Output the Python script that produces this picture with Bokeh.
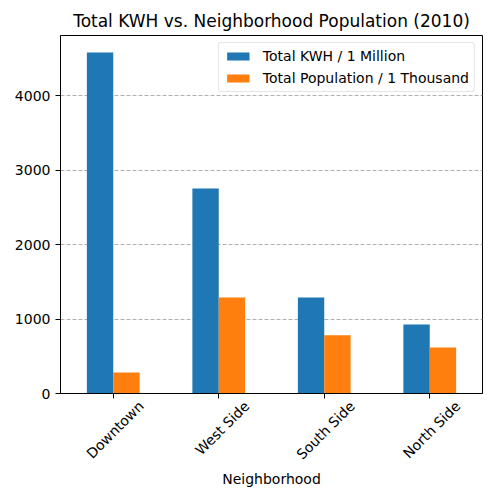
import math
from bokeh.plotting import figure
from bokeh.models import (ColumnDataSource, FixedTicker, Range1d, Legend, LegendItem,
                          LinearAxis)
from bokeh.embed import file_html
from bokeh.resources import INLINE

neighborhoods = ["Downtown", "West Side", "South Side", "North Side"]
kwh_millions = [4577, 2752, 1290, 926]
population_thousands = [282, 1289, 783, 617]
y_ticks = [0, 1000, 2000, 3000, 4000]

FONT = "DejaVu Sans"
BLUE = "#1f77b4"
ORANGE = "#ff7f0e"

idx = list(range(len(neighborhoods)))
bw = 0.25
src = ColumnDataSource(dict(
    x_kwh=[i - bw / 2 for i in idx],
    x_pop=[i + bw / 2 for i in idx],
    kwh=kwh_millions,
    pop=population_thousands,
))

ymax = max(kwh_millions) * 1.05
x_lo, x_hi = -0.5, len(neighborhoods) - 0.5

p = figure(width=500, height=500, output_backend="svg", toolbar_location=None,
           x_range=Range1d(x_lo, x_hi), y_range=Range1d(0, ymax),
           x_axis_location=None,
           min_border_left=60, min_border_right=18, min_border_top=35, min_border_bottom=107)

r1 = p.vbar(x="x_kwh", top="kwh", width=bw, source=src, fill_color=BLUE, line_color=None)
r2 = p.vbar(x="x_pop", top="pop", width=bw, source=src, fill_color=ORANGE, line_color=None)

p.title.text = "Total KWH vs. Neighborhood Population (2010)"
p.title.align = "center"
p.title.text_font = FONT
p.title.text_font_size = "17px"
p.title.text_font_style = "normal"
p.title.text_color = "black"

# main x axis: line + ticks only
xa = LinearAxis(ticker=FixedTicker(ticks=idx))
xa.major_label_overrides = {i: "" for i in idx}
xa.major_label_text_font_size = "0px"
xa.major_label_standoff = 0
xa.axis_line_color = "black"
xa.major_tick_line_color = "black"
xa.major_tick_out = 5
xa.major_tick_in = 0
xa.minor_tick_line_color = None
p.add_layout(xa, "below")

# label axis: shifted so the rotated labels are centred under their ticks
shift = 0.265
p.extra_x_ranges = {"lab": Range1d(x_lo - shift, x_hi - shift)}
xl = LinearAxis(x_range_name="lab", ticker=FixedTicker(ticks=idx))
xl.major_label_overrides = {i: n for i, n in zip(idx, neighborhoods)}
xl.major_label_orientation = math.pi / 4
xl.major_label_text_font = FONT
xl.major_label_text_font_size = "14px"
xl.major_label_text_color = "black"
xl.major_label_standoff = 5
xl.axis_line_color = None
xl.major_tick_line_color = None
xl.major_tick_out = 0
xl.major_tick_in = 0
xl.minor_tick_line_color = None
xl.axis_label = "Neighborhood"
xl.axis_label_standoff = 0
xl.axis_label_text_font = FONT
xl.axis_label_text_font_size = "14px"
xl.axis_label_text_font_style = "normal"
xl.axis_label_text_color = "black"
p.add_layout(xl, "below")

p.yaxis.ticker = FixedTicker(ticks=y_ticks)
p.yaxis.major_label_text_font = FONT
p.yaxis.major_label_text_font_size = "14px"
p.yaxis.major_label_text_color = "black"
p.yaxis.axis_line_color = "black"
p.yaxis.major_tick_line_color = "black"
p.yaxis.major_tick_out = 5
p.yaxis.major_tick_in = 0
p.yaxis.minor_tick_line_color = None

p.xgrid.grid_line_color = None
p.ygrid.grid_line_color = "#b0b0b0"
p.ygrid.grid_line_dash = "4 2"
p.ygrid.grid_line_width = 1

p.outline_line_color = "black"
p.outline_line_alpha = 1
p.outline_line_width = 1
p.background_fill_color = "white"
p.border_fill_color = "white"

legend = Legend(items=[
    LegendItem(label="Total KWH / 1 Million", renderers=[r1]),
    LegendItem(label="Total Population / 1 Thousand", renderers=[r2]),
], location="top_right")
legend.label_text_font = FONT
legend.label_text_font_size = "14px"
legend.label_text_color = "black"
legend.glyph_width = 28
legend.glyph_height = 10
legend.label_height = 15
legend.label_standoff = 11
legend.spacing = 6
legend.padding = 5
legend.margin = 7
legend.border_line_color = "#cccccc"
legend.border_line_width = 1
legend.border_radius = 3
legend.background_fill_alpha = 0.8
p.add_layout(legend)

open("out.html", "w").write(file_html(p, INLINE))
